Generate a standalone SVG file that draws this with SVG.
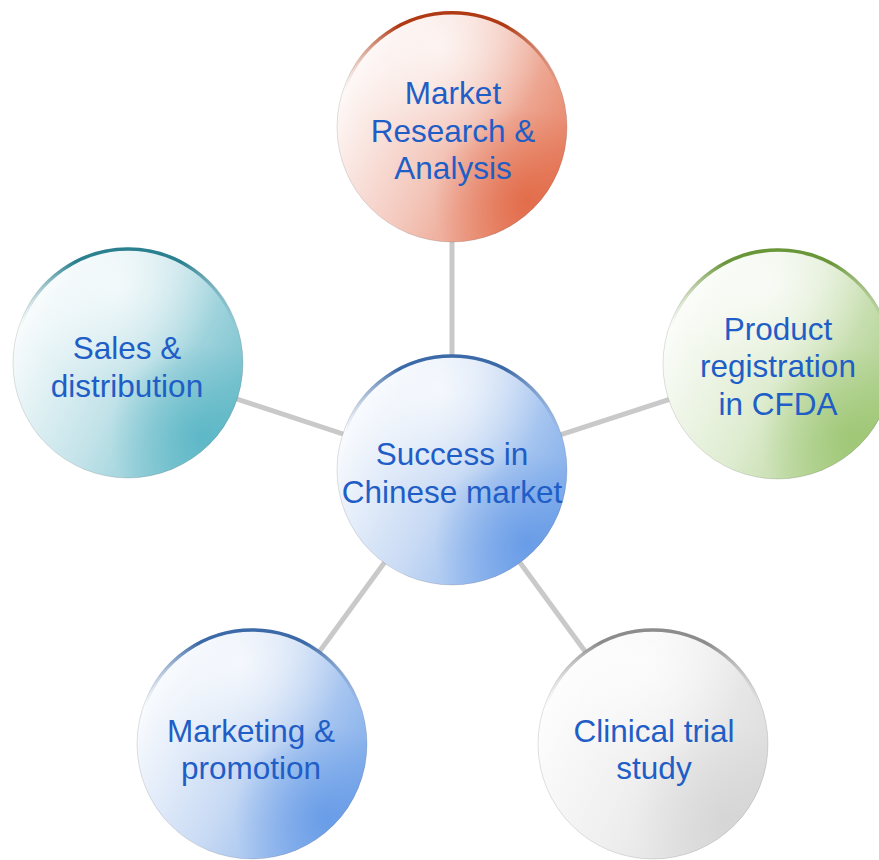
<svg xmlns="http://www.w3.org/2000/svg" width="879" height="860" viewBox="0 0 879 860">
<defs>
<style>
.lbl{font-family:"Liberation Sans",Arial,sans-serif;font-size:31.5px;fill:#1f5ec6;text-anchor:middle}
.conn{stroke:#c9c9c9;stroke-width:5;fill:none}
.edge{fill:none;stroke:#000;stroke-opacity:0.12;stroke-width:1}
.rim{fill:none;stroke-width:3.5;stroke-linecap:round}
</style>
<linearGradient id="gRed" x1="0" y1="0.25" x2="1" y2="0.75"><stop offset="0" stop-color="#ffffff"/><stop offset="0.5" stop-color="#f3c6ba"/><stop offset="1" stop-color="#e67d5e"/></linearGradient>
<radialGradient id="hRed" cx="0.82" cy="0.82" r="0.4"><stop offset="0" stop-color="#e0623e" stop-opacity="0.75"/><stop offset="1" stop-color="#e0623e" stop-opacity="0"/></radialGradient>
<linearGradient id="sRed" x1="0" y1="0" x2="1" y2="0"><stop offset="0" stop-color="#b03a14" stop-opacity="0"/><stop offset="0.25" stop-color="#b03a14"/><stop offset="0.75" stop-color="#b03a14"/><stop offset="1" stop-color="#b03a14" stop-opacity="0"/></linearGradient>

<linearGradient id="gBlue" x1="0" y1="0.25" x2="1" y2="0.75"><stop offset="0" stop-color="#ffffff"/><stop offset="0.5" stop-color="#c8daf4"/><stop offset="1" stop-color="#7aa9ea"/></linearGradient>
<radialGradient id="hBlue" cx="0.82" cy="0.82" r="0.4"><stop offset="0" stop-color="#5e95e6" stop-opacity="0.75"/><stop offset="1" stop-color="#5e95e6" stop-opacity="0"/></radialGradient>
<linearGradient id="sBlue" x1="0" y1="0" x2="1" y2="0"><stop offset="0" stop-color="#3c6aa8" stop-opacity="0"/><stop offset="0.25" stop-color="#3c6aa8"/><stop offset="0.75" stop-color="#3c6aa8"/><stop offset="1" stop-color="#3c6aa8" stop-opacity="0"/></linearGradient>

<linearGradient id="gTeal" x1="0" y1="0.25" x2="1" y2="0.75"><stop offset="0" stop-color="#ffffff"/><stop offset="0.5" stop-color="#c3e3e9"/><stop offset="1" stop-color="#6fbecb"/></linearGradient>
<radialGradient id="hTeal" cx="0.82" cy="0.82" r="0.4"><stop offset="0" stop-color="#52b3c3" stop-opacity="0.75"/><stop offset="1" stop-color="#52b3c3" stop-opacity="0"/></radialGradient>
<linearGradient id="sTeal" x1="0" y1="0" x2="1" y2="0"><stop offset="0" stop-color="#2b8090" stop-opacity="0"/><stop offset="0.25" stop-color="#2b8090"/><stop offset="0.75" stop-color="#2b8090"/><stop offset="1" stop-color="#2b8090" stop-opacity="0"/></linearGradient>

<linearGradient id="gGreen" x1="0" y1="0.25" x2="1" y2="0.75"><stop offset="0" stop-color="#ffffff"/><stop offset="0.5" stop-color="#deecd0"/><stop offset="1" stop-color="#a8cc84"/></linearGradient>
<radialGradient id="hGreen" cx="0.82" cy="0.82" r="0.4"><stop offset="0" stop-color="#98c46c" stop-opacity="0.75"/><stop offset="1" stop-color="#98c46c" stop-opacity="0"/></radialGradient>
<linearGradient id="sGreen" x1="0" y1="0" x2="1" y2="0"><stop offset="0" stop-color="#6a963a" stop-opacity="0"/><stop offset="0.25" stop-color="#6a963a"/><stop offset="0.75" stop-color="#6a963a"/><stop offset="1" stop-color="#6a963a" stop-opacity="0"/></linearGradient>

<linearGradient id="gGray" x1="0" y1="0.25" x2="1" y2="0.75"><stop offset="0" stop-color="#ffffff"/><stop offset="0.5" stop-color="#efefef"/><stop offset="1" stop-color="#dadada"/></linearGradient>
<radialGradient id="hGray" cx="0.82" cy="0.82" r="0.4"><stop offset="0" stop-color="#d0d0d0" stop-opacity="0.6"/><stop offset="1" stop-color="#d0d0d0" stop-opacity="0"/></radialGradient>
<linearGradient id="sGray" x1="0" y1="0" x2="1" y2="0"><stop offset="0" stop-color="#8c8c8c" stop-opacity="0"/><stop offset="0.25" stop-color="#8c8c8c"/><stop offset="0.75" stop-color="#8c8c8c"/><stop offset="1" stop-color="#8c8c8c" stop-opacity="0"/></linearGradient>

<radialGradient id="hiTop" cx="0.45" cy="0.15" r="0.45"><stop offset="0" stop-color="#ffffff" stop-opacity="0.7"/><stop offset="1" stop-color="#ffffff" stop-opacity="0"/></radialGradient>
</defs>

<rect width="879" height="860" fill="#ffffff"/>

<g id="connectors">
<line class="conn" x1="452" y1="470" x2="452" y2="127"/>
<line class="conn" x1="452" y1="470" x2="128" y2="363"/>
<line class="conn" x1="452" y1="470" x2="778" y2="364"/>
<line class="conn" x1="452" y1="470" x2="252" y2="744"/>
<line class="conn" x1="452" y1="470" x2="653" y2="744"/>
</g>

<g id="node-market-research">
<circle cx="452" cy="127" r="115" fill="url(#gRed)"/>
<circle cx="452" cy="127" r="115" fill="url(#hRed)"/>
<circle cx="452" cy="127" r="115" fill="url(#hiTop)"/>
<circle class="edge" cx="452" cy="127" r="115"/>
<path class="rim" stroke="url(#sRed)" d="M344.9 87.7 A114 114 0 0 1 559.1 87.7"/>
<text class="lbl" x="453" y="104">Market</text>
<text class="lbl" x="453" y="141.5">Research &amp;</text>
<text class="lbl" x="453" y="179">Analysis</text>
</g>

<g id="node-success">
<circle cx="452" cy="470" r="115" fill="url(#gBlue)"/>
<circle cx="452" cy="470" r="115" fill="url(#hBlue)"/>
<circle cx="452" cy="470" r="115" fill="url(#hiTop)"/>
<circle class="edge" cx="452" cy="470" r="115"/>
<path class="rim" stroke="url(#sBlue)" d="M344.9 431 A114 114 0 0 1 559.1 431"/>
<text class="lbl" x="452" y="465">Success in</text>
<text class="lbl" x="452" y="503">Chinese market</text>
</g>

<g id="node-sales">
<circle cx="128" cy="363" r="115" fill="url(#gTeal)"/>
<circle cx="128" cy="363" r="115" fill="url(#hTeal)"/>
<circle cx="128" cy="363" r="115" fill="url(#hiTop)"/>
<circle class="edge" cx="128" cy="363" r="115"/>
<path class="rim" stroke="url(#sTeal)" d="M20.9 324 A114 114 0 0 1 235.1 324"/>
<text class="lbl" x="127" y="359">Sales &amp;</text>
<text class="lbl" x="127" y="397">distribution</text>
</g>

<g id="node-registration">
<circle cx="778" cy="364" r="115" fill="url(#gGreen)"/>
<circle cx="778" cy="364" r="115" fill="url(#hGreen)"/>
<circle cx="778" cy="364" r="115" fill="url(#hiTop)"/>
<circle class="edge" cx="778" cy="364" r="115"/>
<path class="rim" stroke="url(#sGreen)" d="M670.9 325 A114 114 0 0 1 885.1 325"/>
<text class="lbl" x="778" y="340">Product</text>
<text class="lbl" x="778" y="377">registration</text>
<text class="lbl" x="778" y="415">in CFDA</text>
</g>

<g id="node-marketing">
<circle cx="252" cy="744" r="115" fill="url(#gBlue)"/>
<circle cx="252" cy="744" r="115" fill="url(#hBlue)"/>
<circle cx="252" cy="744" r="115" fill="url(#hiTop)"/>
<circle class="edge" cx="252" cy="744" r="115"/>
<path class="rim" stroke="url(#sBlue)" d="M144.9 705 A114 114 0 0 1 359.1 705"/>
<text class="lbl" x="251" y="742">Marketing &amp;</text>
<text class="lbl" x="251" y="779">promotion</text>
</g>

<g id="node-clinical">
<circle cx="653" cy="744" r="115" fill="url(#gGray)"/>
<circle cx="653" cy="744" r="115" fill="url(#hGray)"/>
<circle cx="653" cy="744" r="115" fill="url(#hiTop)"/>
<circle class="edge" cx="653" cy="744" r="115"/>
<path class="rim" stroke="url(#sGray)" d="M545.9 705 A114 114 0 0 1 760.1 705"/>
<text class="lbl" x="654" y="742">Clinical trial</text>
<text class="lbl" x="654" y="779">study</text>
</g>
</svg>
